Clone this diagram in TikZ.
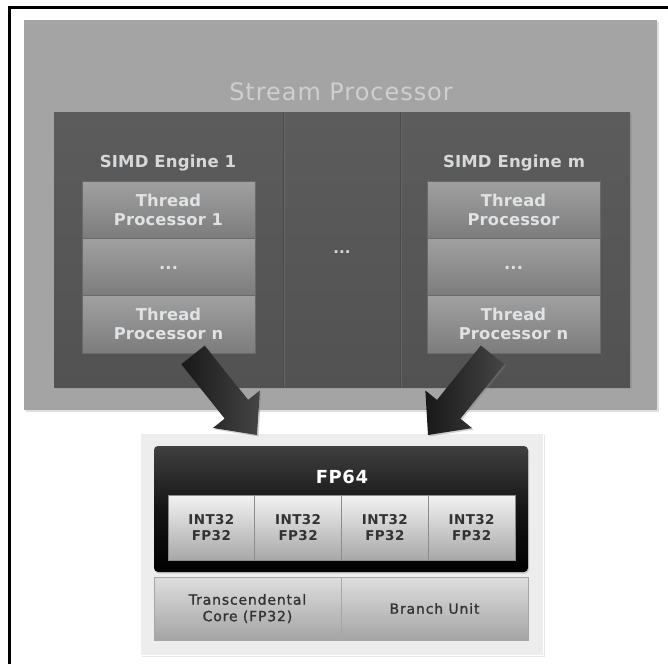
\documentclass[tikz,border=0pt]{standalone}
\usepackage{fontspec}
\setmainfont{DejaVu Sans}
\newfontfamily\titlefont[LetterSpace=4]{DejaVu Sans}
\newfontfamily\unitfont[LetterSpace=6, FakeBold=1.2]{DejaVu Sans}
\newfontfamily\labelfont[LetterSpace=1]{DejaVu Sans Bold}
\newfontfamily\aluFont[LetterSpace=3]{DejaVu Sans Bold}
\usetikzlibrary{calc,shadows}

\definecolor{framegray}{HTML}{A4A4A4}
\definecolor{paneltop}{HTML}{5C5C5C}
\definecolor{panelbot}{HTML}{525252}
\definecolor{paneline}{HTML}{4A4A4A}
\definecolor{panelhi}{HTML}{656565}
\definecolor{celltop}{HTML}{A0A0A0}
\definecolor{cellbot}{HTML}{7C7C7C}
\definecolor{celltext}{HTML}{E0E2E4}
\definecolor{labeltext}{HTML}{D6D8DA}
\definecolor{titletext}{HTML}{CFCFCF}
\definecolor{traybg}{HTML}{EDEDED}
\definecolor{aluTop}{HTML}{F2F2F2}
\definecolor{aluBot}{HTML}{A8A8A8}
\definecolor{unitTop}{HTML}{DEDEDE}
\definecolor{unitBot}{HTML}{A4A4A4}
\definecolor{darktext}{HTML}{333333}
\definecolor{arrowA}{HTML}{181818}
\definecolor{arrowB}{HTML}{454545}

\tikzset{
  box/.style={anchor=north west, inner sep=0pt, outer sep=0pt, align=center},
  tpcell/.style={box, minimum width=173pt, minimum height=57.3pt,
    top color=celltop, bottom color=cellbot, draw=cellbot!85!black, line width=0.6pt,
    text=celltext, font=\labelfont\fontsize{16.3}{19}\selectfont},
  alucell/.style={box, minimum width=86.75pt, minimum height=65pt,
    top color=aluTop, bottom color=aluBot, draw=black!45, line width=0.6pt,
    text=darktext, font=\aluFont\fontsize{13.5}{15.5}\selectfont},
  unitcell/.style={box, minimum width=187pt, minimum height=63pt,
    top color=unitTop, bottom color=unitBot, draw=black!35, line width=0.6pt,
    text=darktext, font=\unitfont\fontsize{14}{16.5}\selectfont},
  bigarrow/.style={left color=arrowA, right color=arrowB,
    drop shadow={opacity=0.35, shadow xshift=1.5pt, shadow yshift=-1.5pt}},
}

\begin{document}
\begin{tikzpicture}[x=1pt, y=-1pt]
\useasboundingbox (0,0) rectangle (668,664);
\fill[white] (0,0) rectangle (668,664);

% frame lines
\draw[line width=3pt, black] (9,664) -- (9,7.5) -- (668,7.5);

% stream processor frame
\node[box, minimum width=633pt, minimum height=390pt, fill=framegray,
      drop shadow={opacity=0.25, shadow xshift=2pt, shadow yshift=-2pt}]
  (sp) at (24,20) {};
\node[text=titletext, font=\titlefont\fontsize{24}{28}\selectfont] (sptitle) at (341,92) {Stream Processor};

% SIMD engine panel with three columns
\node[box, minimum width=576pt, minimum height=275pt,
      top color=paneltop, bottom color=panelbot,
      drop shadow={opacity=0.3, shadow xshift=1.5pt, shadow yshift=-1.5pt}]
  (panel) at (54,112) {};
\draw[paneline, line width=1pt] (283,112) -- (283,387);
\draw[panelhi, line width=0.6pt] (284.2,112) -- (284.2,387);
\draw[paneline, line width=1pt] (400,112) -- (400,387);
\draw[panelhi, line width=0.6pt] (401.2,112) -- (401.2,387);

\node[text=labeltext, font=\labelfont\fontsize{16.5}{19}\selectfont] (se1) at (168,163) {SIMD Engine 1};
\node[text=labeltext, font=\labelfont\fontsize{16.5}{19}\selectfont] (sem) at (514,163) {SIMD Engine m};
\node[text=labeltext, font=\labelfont\fontsize{15}{19}\selectfont] (midd) at (342,252) {...};

% engine 1 thread processors
\node[tpcell] (l1) at (82,181) {Thread\\Processor 1};
\node[tpcell] (l2) at (82,238.3) {\raisebox{-6pt}{...}};
\node[tpcell] (l3) at (82,295.6) {Thread\\Processor n};
% engine m thread processors
\node[tpcell] (r1) at (427,181) {Thread\\Processor};
\node[tpcell] (r2) at (427,238.3) {\raisebox{-6pt}{...}};
\node[tpcell] (r3) at (427,295.6) {Thread\\Processor n};

% thread processor detail
\node[box, minimum width=403pt, minimum height=222pt, fill=traybg, draw=white, line width=1pt,
      drop shadow={opacity=0.18, shadow xshift=1.5pt, shadow yshift=-1.5pt}]
  (tray) at (140,433) {};
\node[box, minimum width=374pt, minimum height=126pt, rounded corners=4pt,
      top color=black!75, bottom color=black, middle color=black!92,
      drop shadow={opacity=0.3, shadow xshift=1pt, shadow yshift=-1.5pt}]
  (fp64) at (154,446) {};
\node[text=white, font=\aluFont\fontsize{18}{20}\selectfont] (fp64t) at (342,477) {FP64};

\node[alucell] (a1) at (168,495) {INT32\\FP32};
\node[alucell] (a2) at (254.75,495) {INT32\\FP32};
\node[alucell] (a3) at (341.5,495) {INT32\\FP32};
\node[alucell] (a4) at (428.25,495) {INT32\\FP32};

\node[unitcell] (tc) at (154,577) {Transcendental\\Core (FP32)};
\node[unitcell] (bu) at (341,577) {Branch Unit};

% dispatch arrows
\coordinate (t1) at ($(l3.south)+(24.5,2)$);
\coordinate (p1) at ($(tray.north)+(-84.5,2)$);
\coordinate (t2) at ($(r3.south)+(-21,2)$);
\coordinate (p2) at ($(tray.north)+(86.5,2)$);

\foreach \t/\p in {t1/p1, t2/p2}{
  \coordinate (hb) at ($(\p)!33pt!(\t)$);
  \path[bigarrow]
    ($(\t)!15pt!90:(\p)$) -- ($(hb)!15pt!90:(\p)$) -- ($(hb)!30pt!90:(\p)$) --
    (\p) --
    ($(hb)!30pt!-90:(\p)$) -- ($(hb)!15pt!-90:(\p)$) -- ($(\t)!15pt!-90:(\p)$) -- cycle;
}
\end{tikzpicture}
\end{document}
